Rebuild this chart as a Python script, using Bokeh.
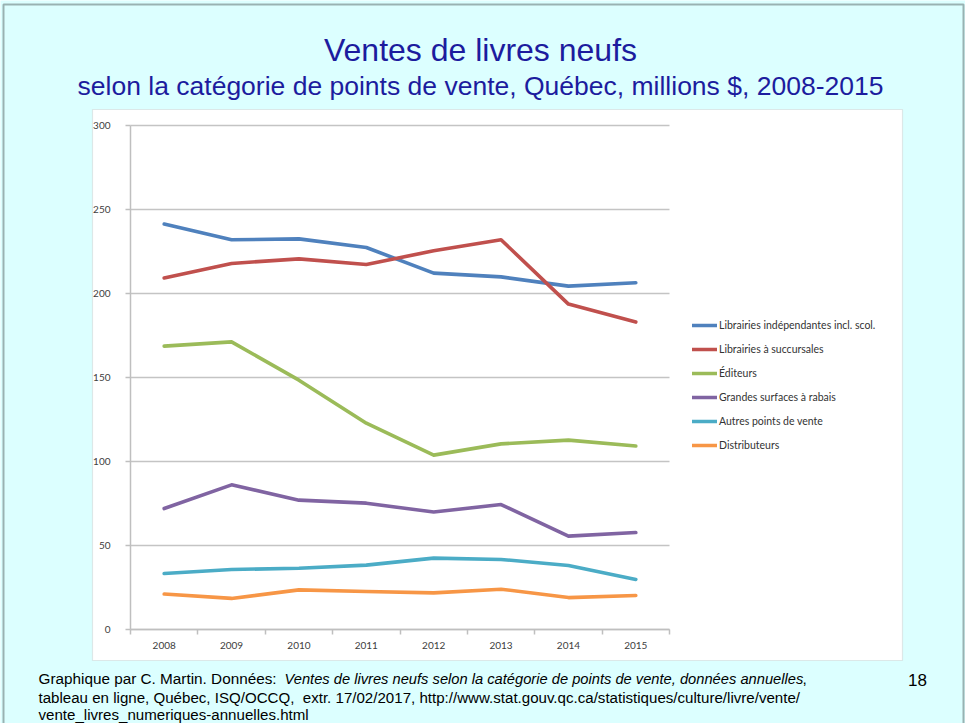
from bokeh.plotting import figure
from bokeh.models import (Range1d, FixedTicker, Legend, LegendItem, Label,
                          BoxAnnotation, PolyAnnotation)
from bokeh.embed import file_html
from bokeh.resources import INLINE

# ---------------- data ----------------
years = [2008, 2009, 2010, 2011, 2012, 2013, 2014, 2015]
librairies_independantes = [241.3, 232.0, 232.5, 227.4, 212.1, 209.9, 204.4, 206.4]
librairies_succursales = [209.2, 217.9, 220.6, 217.3, 225.4, 232.0, 193.7, 183.0]
editeurs = [168.7, 171.2, 148.4, 122.8, 103.8, 110.5, 112.7, 109.2]
grandes_surfaces = [72.0, 86.1, 77.0, 75.2, 69.9, 74.4, 55.6, 57.7]
autres_points = [33.3, 35.7, 36.5, 38.3, 42.5, 41.7, 38.1, 29.8]
distributeurs = [21.1, 18.5, 23.6, 22.6, 21.8, 24.0, 19.0, 20.2]

series_labels = ["Librairies indépendantes incl. scol.", "Librairies à succursales",
                 "Éditeurs", "Grandes surfaces à rabais", "Autres points de vente",
                 "Distributeurs"]
series_values = [librairies_independantes, librairies_succursales, editeurs,
                 grandes_surfaces, autres_points, distributeurs]
series_colors = ["#4F81BD", "#C0504D", "#9BBB59", "#8064A2", "#4BACC6", "#F79646"]
y_ticks = [0, 50, 100, 150, 200, 250, 300]

title_text = "Ventes de livres neufs"
subtitle_text = "selon la catégorie de points de vente, Québec, millions $, 2008-2015"
footer_1a = "Graphique par C. Martin. Données:"
footer_1b = "Ventes de livres neufs selon la catégorie de points de vente, données annuelles"
footer_1c = ","
footer_2 = "tableau en ligne, Québec, ISQ/OCCQ,\u00a0 extr. 17/02/2017, http://www.stat.gouv.qc.ca/statistiques/culture/livre/vente/"
footer_3 = "vente_livres_numeriques-annuelles.html"
page_number = "18"

# ---------------- layout ----------------
W, H = 965, 723
FL, FR, FT, FB = 130, 669, 125, 629   # chart area edges in page pixels

x_lo, x_hi = years[0] - 0.5, years[-1] + 0.5
y_lo, y_hi = y_ticks[0], y_ticks[-1]
ppx = (FR - FL) / (x_hi - x_lo)
ppy = (FB - FT) / (y_hi - y_lo)


def fx(px):
    return px


def fy(py):
    return H - py


p = figure(width=W, height=H, output_backend="svg", toolbar_location=None,
           x_range=Range1d(x_lo - FL / ppx, x_hi + (W - FR) / ppx),
           y_range=Range1d(y_lo - (H - FB) / ppy, y_hi + FT / ppy),
           min_border=0)

p.border_fill_color = "#DCFFFF"
p.background_fill_color = "#DCFFFF"
p.outline_line_color = None

# white chart panel and slide border
panel = BoxAnnotation(left=fx(92), right=fx(902), top=fy(109), bottom=fy(660),
                      left_units="screen", right_units="screen",
                      top_units="screen", bottom_units="screen",
                      fill_color="white", fill_alpha=1.0,
                      line_color="#b4b4b4", line_width=1.2, level="image")
p.add_layout(panel)

slide = PolyAnnotation(xs=[fx(3), fx(3), fx(963), fx(963)],
                       ys=[fy(760), fy(4), fy(4), fy(760)],
                       xs_units="screen", ys_units="screen",
                       fill_color=None, fill_alpha=0, line_color="black", line_width=2)
p.add_layout(slide)

# axes (fixed at the chart's edges)
xa = p.xaxis[0]
xa.fixed_location = y_lo
xa.bounds = (x_lo, x_hi)
xa.ticker = FixedTicker(ticks=years, minor_ticks=[y - 0.5 for y in years] + [x_hi])
xa.major_tick_line_color = None
xa.major_tick_out = 0
xa.major_tick_in = 0
xa.minor_tick_line_color = "#bfbfbf"
xa.minor_tick_line_width = 1.5
xa.minor_tick_out = 5
xa.minor_tick_in = 0
xa.axis_line_color = "#bfbfbf"
xa.axis_line_width = 1.5
xa.major_label_text_font = "Lato"
xa.major_label_text_font_size = "10px"
xa.major_label_text_color = "#404040"
xa.major_label_standoff = 7

ya = p.yaxis[0]
ya.fixed_location = x_lo
ya.bounds = (y_lo, y_hi)
ya.ticker = FixedTicker(ticks=y_ticks, minor_ticks=[])
ya.major_tick_line_color = "#bfbfbf"
ya.major_tick_line_width = 1.5
ya.major_tick_out = 5
ya.major_tick_in = 0
ya.minor_tick_line_color = None
ya.axis_line_color = "#bfbfbf"
ya.axis_line_width = 1.5
ya.major_label_text_font = "Lato"
ya.major_label_text_font_size = "10px"
ya.major_label_text_color = "#404040"
ya.major_label_standoff = 15

# horizontal grid limited to the chart area
p.xgrid.grid_line_color = None
g = p.ygrid[0]
if "cross_bounds" in g.properties():
    g.ticker = FixedTicker(ticks=y_ticks)
    g.cross_bounds = (x_lo, x_hi)
    g.grid_line_color = "#c4c4c4"
    g.grid_line_width = 1.5
else:
    g.grid_line_color = None
    p.segment(x0=[x_lo] * len(y_ticks), x1=[x_hi] * len(y_ticks),
              y0=y_ticks, y1=y_ticks, line_color="#c4c4c4", line_width=1.5,
              level="underlay")

# lines
items = []
for name, vals, col in zip(series_labels, series_values, series_colors):
    r = p.line(years, vals, line_color=col, line_width=3.6,
               line_join="round", line_cap="round")
    items.append(LegendItem(label=name, renderers=[r]))

legend = Legend(items=items, location=(fx(692), fy(455)),
                orientation="vertical", border_line_color=None,
                background_fill_alpha=0, padding=0, margin=0, spacing=4,
                glyph_width=25, glyph_height=20, label_height=20,
                label_standoff=2, label_text_font="Lato",
                label_text_font_size="10.5px", label_text_color="#333333",
                label_text_baseline="middle")
p.add_layout(legend)

# texts (y = visual centre line of the text)
def add_label(text, x, y, size, color="black", align="left", style="normal"):
    p.add_layout(Label(x=x, y=y, x_units="screen", y_units="screen", text=text,
                       text_font="Liberation Sans", text_font_size=size,
                       text_color=color, text_align=align,
                       text_baseline="alphabetic", text_font_style=style))

add_label(title_text, fx(480), fy(49), "32px", "#1C1C9E", "center")
add_label(subtitle_text, fx(480), fy(85), "26.5px", "#1C1C9E", "center")
add_label(footer_1a, fx(38), fy(678), "15.3px")
add_label(footer_1b, fx(284), fy(678), "14.7px", style="italic")
add_label(footer_1c, fx(802), fy(678), "15.3px")
add_label(footer_2, fx(38), fy(696.5), "15.1px")
add_label(footer_3, fx(38), fy(713.5), "15.1px")
add_label(page_number, fx(917), fy(679), "17px", align="center")

open("out.html", "w").write(file_html(p, INLINE))
